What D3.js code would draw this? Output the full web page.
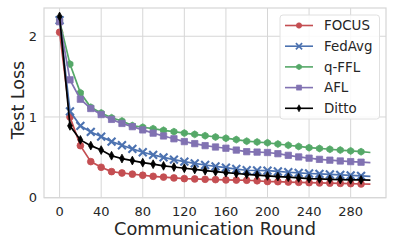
<!DOCTYPE html>
<html><head><meta charset="utf-8">
<script src="https://cdn.jsdelivr.net/npm/d3@7"></script>
<style>body{margin:0;background:#fff}svg{display:block}text{font-family:"DejaVu Sans",sans-serif;fill:#262626}</style>
</head><body><svg id="c" width="395" height="247"></svg>
<script>
const rounds = [0,10,20,30,40,50,60,70,80,90,100,110,120,130,140,150,160,170,180,190,200,210,220,230,240,250,260,270,280,290,299];
const focus  = [2.05,1.0,0.645,0.447,0.377,0.323,0.306,0.292,0.278,0.265,0.255,0.245,0.236,0.232,0.228,0.224,0.22,0.218,0.216,0.21,0.2,0.198,0.194,0.19,0.186,0.183,0.18,0.177,0.174,0.17,0.168];
const fedavg = [2.2,1.07,0.89,0.815,0.757,0.695,0.65,0.605,0.563,0.53,0.5,0.472,0.447,0.425,0.405,0.388,0.372,0.355,0.34,0.337,0.335,0.325,0.315,0.307,0.3,0.295,0.288,0.282,0.276,0.27,0.265];
const qffl   = [2.19,1.655,1.3,1.12,1.05,0.99,0.95,0.893,0.873,0.855,0.835,0.818,0.8,0.785,0.768,0.752,0.737,0.72,0.7,0.69,0.68,0.665,0.65,0.635,0.62,0.61,0.6,0.59,0.58,0.57,0.56];
const afl    = [2.18,1.46,1.22,1.105,1.03,0.97,0.92,0.88,0.84,0.8,0.765,0.73,0.695,0.67,0.645,0.628,0.613,0.59,0.57,0.565,0.56,0.545,0.525,0.505,0.49,0.475,0.465,0.455,0.447,0.44,0.435];
const ditto  = [2.245,0.89,0.716,0.645,0.59,0.52,0.485,0.46,0.434,0.415,0.395,0.38,0.365,0.35,0.335,0.322,0.31,0.3,0.29,0.28,0.27,0.262,0.254,0.245,0.236,0.232,0.228,0.225,0.222,0.22,0.218];
const seriesNames = ["FOCUS","FedAvg","q-FFL","AFL","Ditto"];
const xTicks = [0,40,80,120,160,200,240,280];
const yTicks = [0,1,2];

const series = [
  {name:seriesNames[0], vals:focus,  color:"#C44E52", sym:d3.symbolCircle, size:36},
  {name:seriesNames[1], vals:fedavg, color:"#4C72B0", sym:d3.symbolX, size:42},
  {name:seriesNames[2], vals:qffl,   color:"#55A868", sym:"hex", size:34},
  {name:seriesNames[3], vals:afl,    color:"#8172B2", sym:d3.symbolSquare, size:40},
  {name:seriesNames[4], vals:ditto,  color:"#000000", sym:"thindiamond", size:34}
];

const svg = d3.select("#c");
const L=44, R=386, T=8, B=197.7;
const x = d3.scaleLinear().domain([-15,314]).range([L,R]);
const y = d3.scaleLinear().domain([0,2.35]).range([B,T]);

const gc = "#d6d6d6";
svg.append("g").selectAll("line").data(xTicks).join("line")
  .attr("x1",d=>x(d)).attr("x2",d=>x(d)).attr("y1",T).attr("y2",B).attr("stroke",gc).attr("stroke-width",1);
svg.append("g").selectAll("line").data(yTicks).join("line")
  .attr("y1",d=>y(d)).attr("y2",d=>y(d)).attr("x1",L).attr("x2",R).attr("stroke",gc).attr("stroke-width",1);
svg.append("rect").attr("x",L).attr("y",T).attr("width",R-L).attr("height",B-T).attr("fill","none").attr("stroke",gc).attr("stroke-width",1.2);

function customPath(s, cx, cy, k){
  if (s.sym==="hex"){
    const r=3.5*k; let p="";
    for(let i=0;i<6;i++){const a=Math.PI/3*i+Math.PI/6; p+=(i?"L":"M")+(cx+r*Math.cos(a))+","+(cy+r*Math.sin(a));}
    return p+"Z";
  }
  const w=2.4*k,h=4.4*k;
  return `M${cx},${cy-h}L${cx+w},${cy}L${cx},${cy+h}L${cx-w},${cy}Z`;
}
function drawMarker(g, s, cx, cy, k){
  if (s.sym==="hex"||s.sym==="thindiamond"){
    g.append("path").attr("d",customPath(s,cx,cy,k)).attr("fill",s.color).attr("stroke",s.color).attr("stroke-width",0.8*k);
  } else {
    g.append("path").attr("d",d3.symbol().type(s.sym).size(s.size*k*k)()).attr("transform",`translate(${cx},${cy})`)
      .attr("fill",s.color).attr("stroke",s.color).attr("stroke-width", (s.sym===d3.symbolX?2.1:0.8)*k);
  }
}

const line = d3.line().x((d,i)=>x(rounds[i])).y(d=>y(d));
series.forEach(s=>{
  const g = svg.append("g");
  g.append("path").attr("d",line(s.vals)).attr("fill","none").attr("stroke",s.color).attr("stroke-width",1.7);
  s.vals.forEach((v,i)=>{ if (rounds[i]%10===0) drawMarker(g,s,x(rounds[i]),y(v),1); });
});

svg.append("g").selectAll("text").data(xTicks).join("text")
  .attr("x",d=>x(d)).attr("y",215.5).attr("text-anchor","middle").attr("font-size",13).text(d=>d);
svg.append("g").selectAll("text").data(yTicks).join("text")
  .attr("x",37).attr("y",d=>y(d)+4.7).attr("text-anchor","end").attr("font-size",13).text(d=>d);

svg.append("text").attr("x",215).attr("y",235).attr("text-anchor","middle").attr("font-size",17.8).text("Communication Round");
svg.append("text").attr("transform",`translate(23.5,100) rotate(-90)`).attr("text-anchor","middle").attr("font-size",17.5).text("Test Loss");

const lg = svg.append("g");
lg.append("rect").attr("x",280).attr("y",15).attr("width",99.5).attr("height",104).attr("rx",3)
  .attr("fill","#fff").attr("fill-opacity",0.85).attr("stroke","#e0e0e0").attr("stroke-width",1);
series.forEach((s,i)=>{
  const yy = 25.5 + i*20.7;
  lg.append("line").attr("x1",285).attr("x2",313).attr("y1",yy).attr("y2",yy).attr("stroke",s.color).attr("stroke-width",1.6);
  drawMarker(lg,s,299,yy,0.8);
  lg.append("text").attr("x",324).attr("y",yy+4.7).attr("font-size",13.4).text(s.name);
});
</script></body></html>
